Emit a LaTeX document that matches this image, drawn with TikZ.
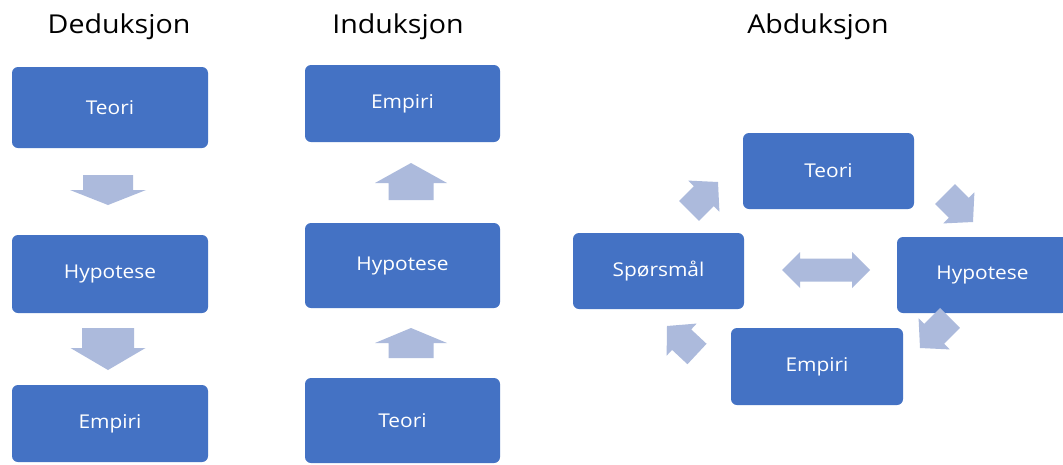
\documentclass[tikz,border=0pt]{standalone}
\usepackage{fontspec}
\setmainfont{Open Sans}[FakeStretch=1.1]
\usetikzlibrary{calc}
\definecolor{boxblue}{RGB}{68,114,196}
\definecolor{arrowfill}{RGB}{172,186,220}
% #1 start, #2 tip, #3 half shaft width, #4 half head width, #5 head length
\newcommand\blockarrow[5]{%
  \path ($(#2)!#5!(#1)$) coordinate (bah);
  \fill[arrowfill] ($(#1)!#3!90:(#2)$) -- ($(bah)!#3!-90:(#1)$) -- ($(bah)!#4!-90:(#1)$)
    -- (#2) -- ($(bah)!#4!90:(#1)$) -- ($(bah)!#3!90:(#1)$) -- ($(#1)!#3!-90:(#2)$) -- cycle;
}
\begin{document}
\begin{tikzpicture}[x=1pt,y=-1pt,
  box/.style={rectangle, rounded corners=6pt, fill=boxblue, text=white, inner sep=0pt,
    font=\fontsize{19}{23}\selectfont},
  title/.style={anchor=base, inner sep=0pt, text=black, font=\fontsize{26}{31}\selectfont}]
\useasboundingbox (0,0) rectangle (1063,464);
\fill[white] (0,0) rectangle (1063,464);
\clip (0,0) rectangle (1063,464);

% titles
\node[title] (tD) at (119,33) {Deduksjon};
\node[title] (tI) at (398,33) {Induksjon};
\node[title] (tA) at (818,33) {Abduksjon};

% Deduksjon
\node[box, minimum width=196pt, minimum height=81pt] (dT) at (110,107.5) {Teori};
\node[box, minimum width=196pt, minimum height=78pt] (dH) at (110,274) {Hypotese};
\node[box, minimum width=196pt, minimum height=77pt] (dE) at (110,423.5) {Empiri};
\coordinate (a1s) at (108,175); \coordinate (a1e) at (108,205);
\coordinate (a2s) at (108,328); \coordinate (a2e) at (108,370);
\blockarrow{a1s}{a1e}{25pt}{38pt}{15pt}
\blockarrow{a2s}{a2e}{26pt}{37.5pt}{22pt}

% Induksjon
\node[box, minimum width=195pt, minimum height=77pt] (iE) at (402.5,103.5) {Empiri};
\node[box, minimum width=195pt, minimum height=85pt] (iH) at (402.5,265.5) {Hypotese};
\node[box, minimum width=195pt, minimum height=85pt] (iT) at (402.5,420.5) {Teori};
\coordinate (b1s) at (411,200); \coordinate (b1e) at (411,163);
\coordinate (b2s) at (411,358); \coordinate (b2e) at (411,328);
\blockarrow{b1s}{b1e}{22.5pt}{36pt}{20pt}
\blockarrow{b2s}{b2e}{22.5pt}{36pt}{15pt}

% Abduksjon
\node[box, minimum width=171pt, minimum height=76pt] (aT) at (828.5,171) {Teori};
\node[box, minimum width=171pt, minimum height=76pt] (aS) at (658.5,271) {Spørsmål};
\node[box, minimum width=171pt, minimum height=76pt] (aH) at (982.5,275) {Hypotese};
\node[box, minimum width=172pt, minimum height=77pt] (aE) at (817,366.5) {Empiri};
\coordinate (c1s) at (689,211); \coordinate (c1e) at (718,182);
\coordinate (c2s) at (945,194); \coordinate (c2e) at (973,222);
\coordinate (c3s) at (950,318); \coordinate (c3e) at (920,348);
\coordinate (c4s) at (697,354); \coordinate (c4e) at (667,326);
\blockarrow{c1s}{c1e}{14pt}{22pt}{20pt}
\blockarrow{c2s}{c2e}{14pt}{22pt}{20pt}
\blockarrow{c3s}{c3e}{14pt}{22pt}{20pt}
\blockarrow{c4s}{c4e}{14pt}{22pt}{20pt}

% double arrow
\coordinate (dl) at (782,270); \coordinate (dr) at (870,270);
\fill[arrowfill] (dl) -- ($(dl)+(18,-18)$) -- ($(dl)+(18,-11.5)$) -- ($(dr)+(-18,-11.5)$)
  -- ($(dr)+(-18,-18)$) -- (dr) -- ($(dr)+(-18,18)$) -- ($(dr)+(-18,11.5)$)
  -- ($(dl)+(18,11.5)$) -- ($(dl)+(18,18)$) -- cycle;
\end{tikzpicture}
\end{document}
